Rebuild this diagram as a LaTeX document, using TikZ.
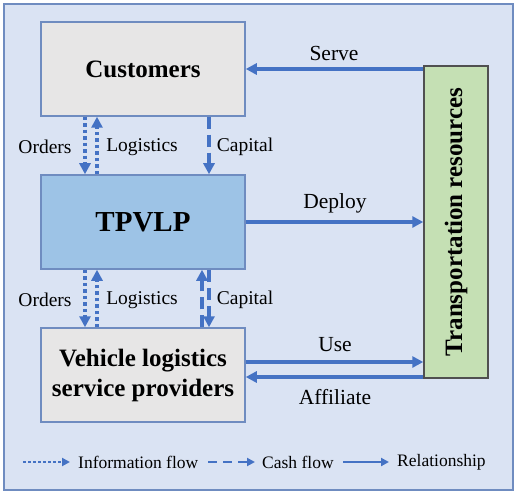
\documentclass[tikz,border=0pt]{standalone}
\usepackage{fontspec}
\setmainfont{Liberation Serif}
\usetikzlibrary{arrows.meta}
\definecolor{bgblue}{HTML}{DAE3F3}
\definecolor{frameblue}{HTML}{6F8CC0}
\definecolor{arrowblue}{HTML}{4472C4}
\definecolor{boxgray}{HTML}{E7E6E6}
\definecolor{tpblue}{HTML}{9DC3E6}
\definecolor{trgreen}{HTML}{C5E0B4}
\definecolor{trborder}{HTML}{505050}
\tikzset{
  x=1pt, y=-1pt,
  mainbox/.style={draw=frameblue, line width=1.5pt, minimum width=204pt, minimum height=94pt, inner sep=0pt, align=center, font=\fontsize{25}{30}\selectfont\bfseries},
  rel/.style={draw=arrowblue, line width=3.2pt, -{Triangle[length=11pt,width=11pt]}},
  info/.style={rel, dash pattern=on 3.5pt off 3pt},
  cash/.style={rel, dash pattern=on 12pt off 6pt},
  lbl/.style={font=\fontsize{19.5}{22}\selectfont, inner sep=0pt},
  rlbl/.style={font=\fontsize{21.5}{24}\selectfont, inner sep=0pt},
  leg/.style={font=\fontsize{17.5}{20}\selectfont, inner sep=0pt, anchor=west},
  legrel/.style={draw=arrowblue, line width=2.4pt, -{Triangle[length=8pt,width=8pt]}},
}
\begin{document}
\begin{tikzpicture}
\useasboundingbox (0,0) rectangle (518,494);
\draw[draw=frameblue, fill=bgblue, line width=1.5pt] (4,4) rectangle (513,490);

\node[mainbox, fill=boxgray] (cust) at (143,69) {Customers};
\node[mainbox, fill=tpblue, font=\fontsize{29}{34}\selectfont\bfseries] (tp) at (143,222) {TPVLP};
\node[mainbox, fill=boxgray] (vl) at (143,375) {Vehicle logistics\\service providers};
\node[draw=trborder, fill=trgreen, line width=1.5pt, minimum width=64pt, minimum height=312pt, inner sep=0pt] (tr) at (456,222) {};
\node[rotate=90, font=\fontsize{25}{30}\selectfont\bfseries] (trt) at (tr.center) {Transportation resources};

% x positions
\coordinate (xo) at (85,0);
\coordinate (xl) at (97,0);
\coordinate (xcu) at (202,0);
\coordinate (xcd) at (209,0);
\coordinate (yuse) at (0,362);
\coordinate (yaff) at (0,377);

% top gap
\draw[info] (cust.south -| xo) -- (tp.north -| xo);
\draw[info] (tp.north -| xl) -- (cust.south -| xl);
\draw[cash] (cust.south -| xcd) -- (tp.north -| xcd);
% bottom gap
\draw[info] (tp.south -| xo) -- (vl.north -| xo);
\draw[info] (vl.north -| xl) -- (tp.south -| xl);
\draw[cash] (vl.north -| xcu) -- (tp.south -| xcu);
\draw[cash] (tp.south -| xcd) -- (vl.north -| xcd);

% horizontal
\draw[rel] (tr.west |- cust.east) -- (cust.east);
\draw[rel] (tp.east) -- (tr.west |- tp.east);
\draw[rel] (vl.east |- yuse) -- (tr.west |- yuse);
\draw[rel] (tr.west |- yaff) -- (vl.east |- yaff);

% labels
\node[lbl] (l1) at (45,147) {Orders};
\node[lbl] (l2) at (142,147) {Logistics};
\node[lbl] (l3) at (245,147) {Capital};
\node[lbl] (l4) at (45,300) {Orders};
\node[lbl] (l5) at (142,300) {Logistics};
\node[lbl] (l6) at (245,300) {Capital};
\node[rlbl] (l7) at (334,53) {Serve};
\node[rlbl] (l8) at (335,203) {Deploy};
\node[rlbl] (l9) at (335,345) {Use};
\node[rlbl] (l10) at (335,397) {Affiliate};

% legend
\coordinate (la1) at (23,462);
\coordinate (la2) at (70,462);
\coordinate (lb1) at (208,462);
\coordinate (lb2) at (255,462);
\coordinate (lc1) at (343,462);
\coordinate (lc2) at (389,462);
\draw[legrel, dash pattern=on 2.5pt off 2.5pt] (la1) -- (la2);
\node[leg] (t1) at (78,462) {Information flow};
\draw[legrel, dash pattern=on 9pt off 6pt] (lb1) -- (lb2);
\node[leg] (t2) at (262,462) {Cash flow};
\draw[legrel] (lc1) -- (lc2);
\node[leg] (t3) at (397,462) {Relationship};
\end{tikzpicture}
\end{document}
